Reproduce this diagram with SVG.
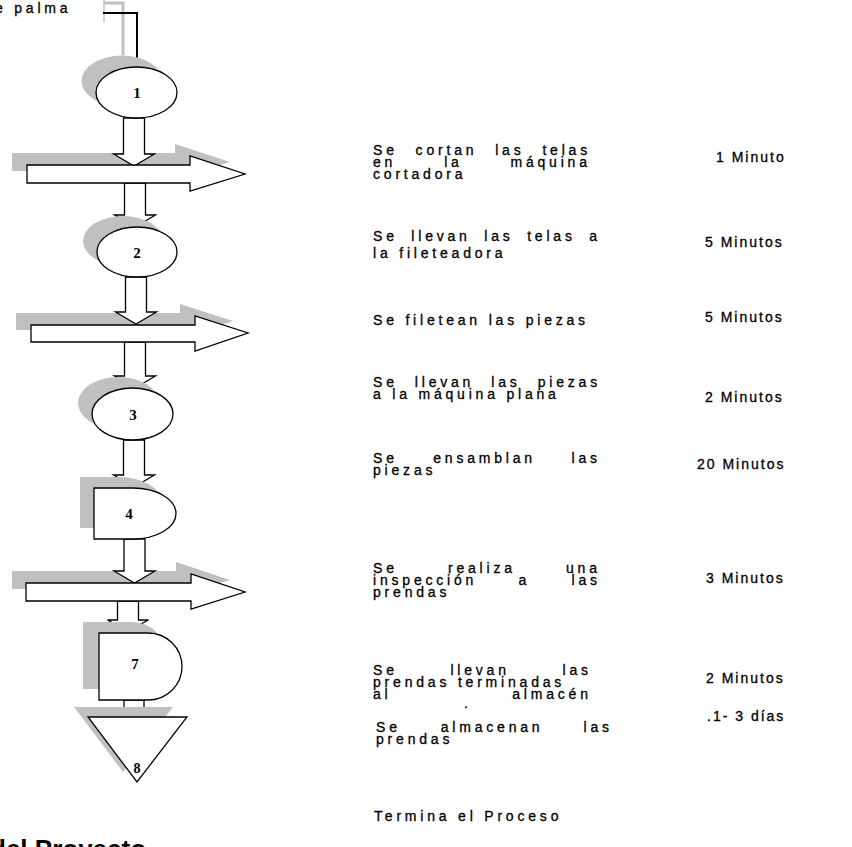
<svg xmlns="http://www.w3.org/2000/svg" width="852" height="847" viewBox="0 0 852 847">
  <style>
    .shape { fill: #ffffff; stroke: #000000; stroke-width: 1.3; stroke-linejoin: miter; }
    .shadow { fill: #c0c0c0; stroke: none; }
    .num { font-family: "Liberation Serif", "Times New Roman", serif; font-weight: bold; font-size: 15px; fill: #000; text-anchor: middle; }
    .txt { font-family: "Liberation Sans", Arial, sans-serif; font-size: 14px; letter-spacing: 3.8px; fill: #000; stroke: #000; stroke-width: 0.3px; }
    .t { font-family: "Liberation Sans", Arial, sans-serif; font-size: 14px; letter-spacing: 2px; fill: #000; stroke: #000; stroke-width: 0.3px; }
    .end { text-anchor: end; }
    .mid { text-anchor: middle; }
    .head { font-family: "Liberation Sans", Arial, sans-serif; font-size: 26px; font-weight: bold; fill: #000; }
  </style>

  <!-- caption fragments at the edges -->
  <text class="txt" x="-5" y="13">e palma</text>
  <text class="head" x="-10" y="858">del Proyecto</text>

  <!-- incoming material line -->
  <g id="inicio">
    <polyline points="104,0 104,22" fill="none" stroke="#d0d0d0" stroke-width="2"/>
    <polyline points="104,3 123,3 123,55" fill="none" stroke="#c0c0c0" stroke-width="3"/>
    <polyline points="103,13 137,13 137,67" fill="none" stroke="#000" stroke-width="2"/>
  </g>

  <!-- shadows of the horizontal transport arrows sit beneath the connectors -->
  <g id="sombras-transporte">
    <path class="shadow" d="M12,153 H175 V144 L230,162 L175,179 V171 H12 Z"/>
    <path class="shadow" d="M16,313 H180 V304 L233,321 L180,339 V330 H16 Z"/>
    <path class="shadow" d="M12,571 H176 V562 L230,580 L176,597 V589 H12 Z"/>
  </g>

  <!-- block connectors between the steps -->
  <g id="conectores">
    <path class="shape" d="M123.5,118 H144.5 V154 H154.5 L134,166 L113.5,154 H123.5 Z"/>
    <path class="shape" d="M124.5,183 H145.5 V215 H155.5 L135,227 L114.5,215 H124.5 Z"/>
    <path class="shape" d="M125.5,277 H146.5 V312 H156.5 L136,324 L115.5,312 H125.5 Z"/>
    <path class="shape" d="M124.5,342 H145.5 V376 H155.5 L135,388 L114.5,376 H124.5 Z"/>
    <path class="shape" d="M123.5,440 H144.5 V475 H154.5 L134,487 L113.5,475 H123.5 Z"/>
    <path class="shape" d="M124,539 H145 V571 H155 L134.5,583 L114,571 H124 Z"/>
    <path class="shape" d="M117.5,601 H138.5 V620 H148.5 L128,631 L107.5,620 H117.5 Z"/>
    <rect class="shape" x="124" y="700" width="20" height="17"/>
  </g>

  <!-- 1: operation -->
  <g id="op1">
    <ellipse class="shadow" cx="122" cy="81" rx="40.5" ry="25.5"/>
    <ellipse class="shape" cx="136.5" cy="92.5" rx="40.5" ry="25.5"/>
    <text class="num" x="137" y="98">1</text>
  </g>

  <!-- transport 1 -->
  <g id="transporte1">
    <path class="shape" d="M27,165 H190 V156 L245,174 L190,191 V183 H27 Z"/>
  </g>

  <!-- 2: operation -->
  <g id="op2">
    <ellipse class="shadow" cx="123" cy="241" rx="40" ry="25"/>
    <ellipse class="shape" cx="137" cy="252" rx="40" ry="25"/>
    <text class="num" x="137" y="258">2</text>
  </g>

  <!-- transport 2 -->
  <g id="transporte2">
    <path class="shape" d="M31,325 H195 V316 L248,333 L195,351 V342 H31 Z"/>
  </g>

  <!-- 3: operation -->
  <g id="op3">
    <ellipse class="shadow" cx="118.5" cy="403" rx="40.5" ry="26"/>
    <ellipse class="shape" cx="132.5" cy="414" rx="40.5" ry="26"/>
    <text class="num" x="133" y="420">3</text>
  </g>

  <!-- 4: delay -->
  <g id="espera4">
    <path class="shadow" d="M80,477 H119 A43,25.5 0 0 1 119,528 H80 Z"/>
    <path class="shape" d="M94,488 H133 A43,25.5 0 0 1 133,539 H94 Z"/>
    <text class="num" x="129" y="519">4</text>
  </g>

  <!-- transport 3 -->
  <g id="transporte3">
    <path class="shape" d="M26,583 H191 V574 L245,592 L191,609 V601 H26 Z"/>
  </g>

  <!-- 7: delay -->
  <g id="espera7">
    <path class="shadow" d="M83,622 H132 A34,33.5 0 0 1 132,689 H83 Z"/>
    <path class="shape" d="M99,633 H148 A34,33.5 0 0 1 148,700 H99 Z"/>
    <text class="num" x="135" y="669">7</text>
  </g>

  <!-- 8: storage -->
  <g id="almacen8">
    <polygon class="shadow" points="74,707 173,707 123,772"/>
    <polygon class="shape" points="88,717 187,717 137,782"/>
    <text class="num" x="137" y="773" style="font-size:14px">8</text>
  </g>

  <!-- step descriptions (justified column) -->
  <g id="descripciones">
    <text class="txt" x="373" y="155" word-spacing="10.2">Se cortan las telas</text>
    <text class="txt" y="167"><tspan x="373">en</tspan><tspan class="mid" x="453.4">la</tspan><tspan class="end" x="590.8">máquina</tspan></text>
    <text class="txt" x="373" y="179">cortadora</text>

    <text class="txt" x="373" y="241" word-spacing="5.9">Se llevan las telas a</text>
    <text class="txt" x="373" y="258">la fileteadora</text>

    <text class="txt" x="373" y="325">Se filetean las piezas</text>

    <text class="txt" x="373" y="387" word-spacing="9.4">Se llevan las piezas</text>
    <text class="txt" x="373" y="399">a la máquina plana</text>

    <text class="txt" y="463"><tspan x="373">Se</tspan><tspan class="mid" x="484.6">ensamblan</tspan><tspan class="end" x="600.8">las</tspan></text>
    <text class="txt" x="373" y="475">piezas</text>

    <text class="txt" y="573"><tspan x="373">Se</tspan><tspan class="mid" x="481.9">realiza</tspan><tspan class="end" x="600.8">una</tspan></text>
    <text class="txt" y="585"><tspan x="373">inspección</tspan><tspan class="mid" x="524.3">a</tspan><tspan class="end" x="600.8">las</tspan></text>
    <text class="txt" x="373" y="597">prendas</text>

    <text class="txt" y="675"><tspan x="373">Se</tspan><tspan class="mid" x="480.1">llevan</tspan><tspan class="end" x="591.8">las</tspan></text>
    <text class="txt" x="373" y="687">prendas terminadas</text>
    <text class="txt" y="699"><tspan x="373">al</tspan><tspan class="end" x="591.8">almacén</tspan></text>
    <text class="txt" x="464" y="708">.</text>

    <text class="txt" y="732"><tspan x="376">Se</tspan><tspan class="mid" x="492.1">almacenan</tspan><tspan class="end" x="612.8">las</tspan></text>
    <text class="txt" x="376" y="744">prendas</text>

    <text class="txt" x="374" y="821">Termina el Proceso</text>
  </g>

  <!-- step times -->
  <g id="tiempos">
    <text class="t" x="716" y="162">1 Minuto</text>
    <text class="t" x="705" y="247">5 Minutos</text>
    <text class="t" x="705" y="322">5 Minutos</text>
    <text class="t" x="705" y="402">2 Minutos</text>
    <text class="t" x="697" y="469">20 Minutos</text>
    <text class="t" x="706" y="583">3 Minutos</text>
    <text class="t" x="706" y="683">2 Minutos</text>
    <text class="t" x="707" y="721">.1- 3 días</text>
  </g>
</svg>
